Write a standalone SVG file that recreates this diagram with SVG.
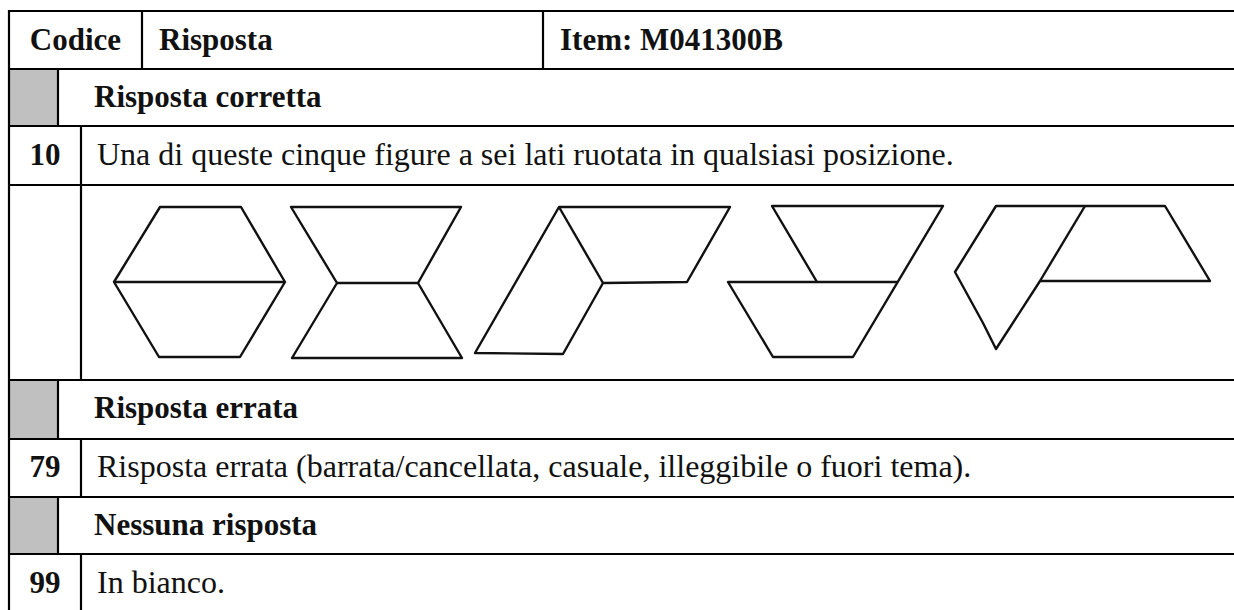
<svg xmlns="http://www.w3.org/2000/svg" width="1234" height="610" viewBox="0 0 1234 610">
<style>
.grid line{stroke:#000;stroke-width:2.2}
.gray{fill:#c0c0c0}
.t{font-family:"Liberation Serif","Times New Roman",serif;font-size:32px;fill:#111}
.b{font-weight:bold;font-size:31px}
.fig{fill:none;stroke:#111;stroke-width:2.4;stroke-linejoin:round}
</style>
<rect width="1234" height="610" fill="#fff"/>
<g id="fills">
<rect class="gray" x="9" y="69" width="49" height="57"/>
<rect class="gray" x="9" y="380" width="49" height="59"/>
<rect class="gray" x="9" y="497" width="49" height="57"/>
</g>
<g id="grid" class="grid">
<line x1="9" y1="11" x2="1234" y2="11"/>
<line x1="9" y1="69" x2="1234" y2="69"/>
<line x1="9" y1="126" x2="1234" y2="126"/>
<line x1="9" y1="185" x2="1234" y2="185"/>
<line x1="9" y1="380" x2="1234" y2="380"/>
<line x1="9" y1="439" x2="1234" y2="439"/>
<line x1="9" y1="497" x2="1234" y2="497"/>
<line x1="9" y1="554" x2="1234" y2="554"/>
<line x1="9" y1="10" x2="9" y2="610"/>
<line x1="142" y1="11" x2="142" y2="69"/>
<line x1="543" y1="11" x2="543" y2="69"/>
<line x1="58" y1="69" x2="58" y2="126"/>
<line x1="81" y1="126" x2="81" y2="380"/>
<line x1="58" y1="380" x2="58" y2="439"/>
<line x1="81" y1="439" x2="81" y2="497"/>
<line x1="58" y1="497" x2="58" y2="554"/>
<line x1="81" y1="554" x2="81" y2="610"/>
</g>
<g id="header">
<text class="t b" x="75.5" y="50" text-anchor="middle">Codice</text>
<text class="t b" x="159" y="50">Risposta</text>
<text class="t b" x="560" y="50">Item: M041300B</text>
</g>
<g id="sec-corretta"><text class="t b" x="94" y="107">Risposta corretta</text></g>
<g id="row-10">
<text class="t b" x="45" y="165" text-anchor="middle">10</text>
<text class="t" x="97" y="165">Una di queste cinque figure a sei lati ruotata in qualsiasi posizione.</text>
</g>
<g id="figures">
<g id="fig1">
<polygon class="fig" points="160,207 241,207 285,282 240,357 159,357 114,282"/>
<line class="fig" x1="114" y1="282" x2="285" y2="282"/>
</g>
<g id="fig2">
<polygon class="fig" points="291,207 461,207 418,283 462,358 292,358 337,283"/>
<line class="fig" x1="337" y1="283" x2="418" y2="283"/>
</g>
<g id="fig3">
<polygon class="fig" points="559,207 730,207 687,282 603,283 563,354 475,353"/>
<line class="fig" x1="559" y1="207" x2="603" y2="283" stroke-width="3"/>
</g>
<g id="fig4">
<polygon class="fig" points="772,206 943,206 853,357 773,357 728,282 817,282"/>
<line class="fig" x1="817" y1="282" x2="897" y2="282"/>
</g>
<g id="fig5">
<polygon class="fig" points="996,206 1165,206 1210,281 1040,281 996,349 983,323 955,272"/>
<line class="fig" x1="1085" y1="206" x2="1040" y2="281"/>
</g>
</g>
<g id="sec-errata"><text class="t b" x="94" y="418">Risposta errata</text></g>
<g id="row-79">
<text class="t b" x="45" y="477" text-anchor="middle">79</text>
<text class="t" x="97" y="477">Risposta errata (barrata/cancellata, casuale, illeggibile o fuori tema).</text>
</g>
<g id="sec-nessuna"><text class="t b" x="94" y="535">Nessuna risposta</text></g>
<g id="row-99">
<text class="t b" x="45" y="593" text-anchor="middle">99</text>
<text class="t" x="97" y="593">In bianco.</text>
</g>
</svg>
